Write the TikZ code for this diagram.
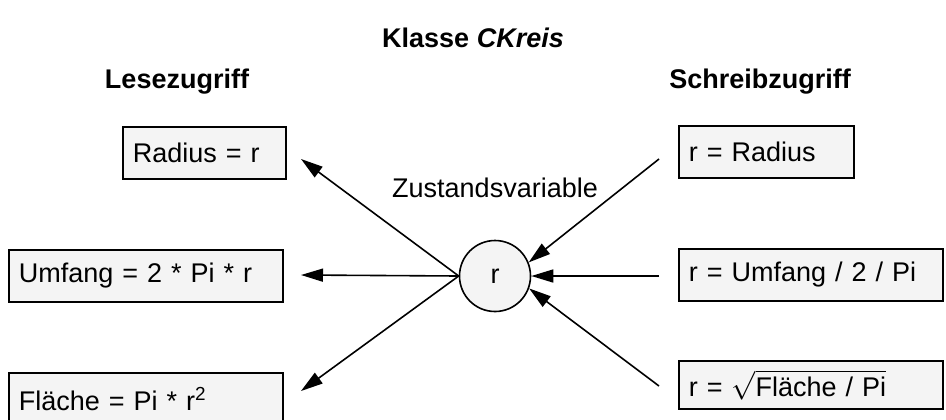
\documentclass[tikz,border=0pt]{standalone}
\usepackage{fontspec}
\setmainfont{Liberation Sans}
\usetikzlibrary{arrows.meta}
\definecolor{boxgray}{RGB}{244,244,244}
\newcommand{\schrift}{\fontsize{13.5pt}{16pt}\selectfont}
\tikzset{
feld/.style={draw, fill=boxgray, line width=0.8pt, minimum height=26pt,
  inner xsep=5pt, anchor=north west, align=left},
zustand/.style={draw, fill=boxgray, circle, line width=0.8pt,
  minimum size=35.5pt, inner sep=0pt},
zugriff/.style={line width=0.8pt, -{Triangle[length=11pt,width=6.5pt]}},
kopf/.style={font=\schrift\bfseries, anchor=base}
}

\begin{document}
\begin{tikzpicture}[x=0.5pt, y=-0.5pt, font=\schrift]
  \clip (0,0) rectangle (946,419);
  \node[kopf] (titel) at (473,47) {Klasse \textit{CKreis}};
  \node[kopf] (lesen) at (177,88) {Lesezugriff};
  \node[kopf] (schreiben) at (760,88) {Schreibzugriff};
  % Lesezugriff
  \node[feld, text width=71.5pt] (radius) at (122,126) {Radius = r};
  \node[feld, text width=127pt] (umfang) at (8,249) {Umfang = 2 * Pi * r};
  \node[feld, text width=127pt] (flaeche) at (8,372) {Fläche = Pi * r\textsuperscript{2}};
  % Schreibzugriff
  \node[feld, text width=77.5pt] (sradius) at (678,125) {r = Radius};
  \node[feld, text width=122pt] (sumfang) at (678,248) {r = Umfang / 2 / Pi};
  \node[feld, text width=122pt, minimum height=24pt] (sflaeche) at (678,360)
    {r = $\sqrt{\mbox{Fläche / Pi}}$};
  % Zustandsvariable
  \node[zustand] (kreis) at (495,276) {r};
  \node[anchor=base] (zlabel) at (495,197) {Zustandsvariable};
  \coordinate (l1) at (301,159);
  \coordinate (l2) at (301,275);
  \coordinate (l3) at (301,391);
  \coordinate (s1) at (659,159);
  \coordinate (s2) at (659,276);
  \coordinate (s3) at (659,386);
  \draw[zugriff] (kreis.west) -- (l1);
  \draw[zugriff] (kreis.west) -- (l2);
  \draw[zugriff] (kreis.west) -- (l3);
  \draw[zugriff] (s1) -- (kreis.22);
  \draw[zugriff] (s2) -- (kreis.east);
  \draw[zugriff] (s3) -- (kreis.-20);
\end{tikzpicture}
\end{document}
